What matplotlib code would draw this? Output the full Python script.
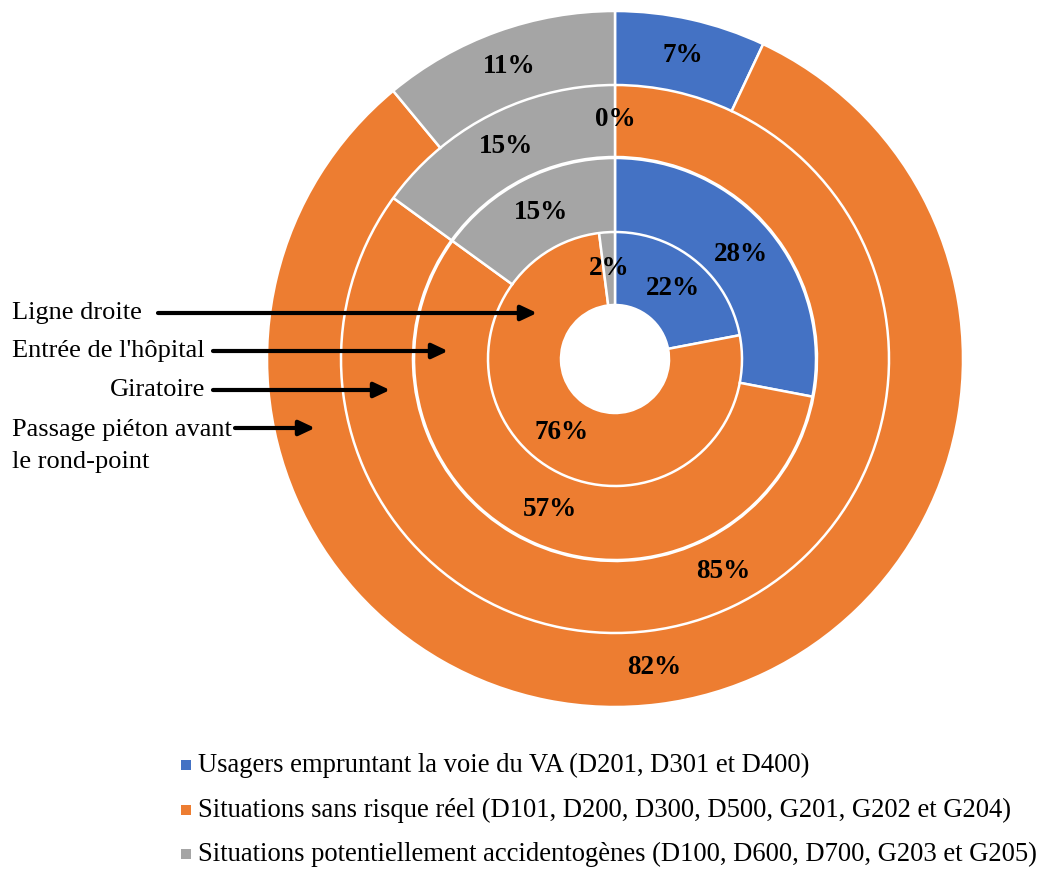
import matplotlib
matplotlib.use('Agg')
from matplotlib import pyplot as plt
import numpy as np

plt.rcParams['font.family'] = ['Liberation Serif', 'DejaVu Serif']

# anneaux, du centre vers l'extérieur
rings = ['Ligne droite', "Entrée de l'hôpital", 'Giratoire',
         'Passage piéton avant\nle rond-point']
usagers_va = [22, 28, 0, 7]
sans_risque = [76, 57, 85, 82]
accidentogenes = [2, 15, 15, 11]

series_names = ['Usagers empruntant la voie du VA (D201, D301 et D400)',
                'Situations sans risque réel (D101, D200, D300, D500, G201, G202 et G204)',
                'Situations potentiellement accidentogènes (D100, D600, D700, G203 et G205)']
colors = ['#4472C4', '#ED7D31', '#A5A5A5']

H = 871
fig = plt.figure(figsize=(10.43, 8.71), dpi=100)
ax = fig.add_axes([0, 0, 1, 1])

cx, cy = 615, H - 359
width = 74
radii = [128, 201, 276, 348]

for i in range(len(rings)):
    vals = [usagers_va[i], sans_risque[i], accidentogenes[i]]
    r_out = radii[i]
    ax.pie(vals, radius=r_out, center=(cx, cy), startangle=90, counterclock=False,
           colors=colors, normalize=True,
           wedgeprops=dict(width=width, edgecolor='white', linewidth=1.8))
    # étiquettes au milieu de chaque secteur
    start = 0
    r_mid = r_out - width / 2
    for v in vals:
        ang = np.deg2rad(90 - (start + v / 2) * 3.6)
        ax.text(cx + r_mid * np.cos(ang), cy + r_mid * np.sin(ang), f'{v}%',
                ha='center', va='center', fontsize=19.5, fontweight='bold')
        start += v

ax.set_xlim(0, 1043)
ax.set_ylim(0, H)
ax.axis('off')

# noms des anneaux + flèches
ax.text(12, H - 313, rings[0], ha='left', va='center', fontsize=19)
ax.text(12, H - 351, rings[1], ha='left', va='center', fontsize=19)
ax.text(205, H - 390, rings[2], ha='right', va='center', fontsize=19)
ax.text(12, H - 446, rings[3], ha='left', va='center', fontsize=19, linespacing=1.55)

arrows = [(158, 537, 313), (213, 448, 351), (213, 390, 390), (235, 315, 428)]
for x0, x1, y in arrows:
    ax.annotate('', xy=(x1, H - y), xytext=(x0, H - y),
                arrowprops=dict(arrowstyle='-|>,head_length=0.53,head_width=0.25',
                                color='black', lw=3, mutation_scale=18,
                                shrinkA=0, shrinkB=0))

# légende
leg_y = [765, 810, 854]
for name, col, y in zip(series_names, colors, leg_y):
    ax.scatter([185.5], [H - y], marker='s', s=62, color=col, linewidths=0)
    ax.text(198, H - y, name, ha='left', va='center', fontsize=19.2)

fig.savefig('out.png', dpi=100)
